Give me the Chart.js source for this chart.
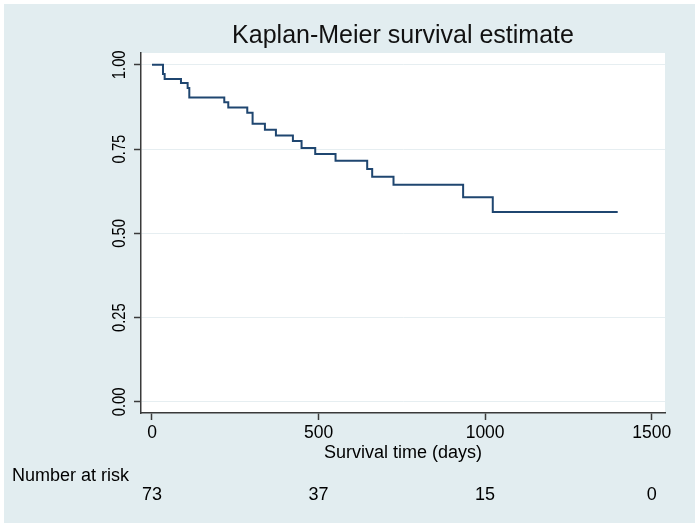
<!DOCTYPE html>
<html>
<head>
<meta charset="utf-8">
<script src="https://cdn.jsdelivr.net/npm/chart.js@4/dist/chart.umd.min.js"></script>
<style>
  html, body { margin: 0; padding: 0; background: #ffffff; }
  #wrap { width: 700px; height: 529px; }
</style>
</head>
<body>
<div id="wrap"><canvas id="c" width="700" height="529"></canvas></div>
<script>
// ---- data ----
const times    = [0, 33, 38, 87, 107, 112, 217, 229, 286, 302, 339, 372, 423, 449, 490, 551, 646, 661, 725, 934, 1023, 1398];
const survival = [1, 0.973, 0.958, 0.946, 0.931, 0.903, 0.889, 0.873, 0.858, 0.825, 0.807, 0.790, 0.774, 0.753, 0.735, 0.715, 0.691, 0.668, 0.644, 0.607, 0.563, 0.563];
const xTicks = [0, 500, 1000, 1500];
const yTicks = [0, 0.25, 0.5, 0.75, 1];
const yTickLabels = ['0.00', '0.25', '0.50', '0.75', '1.00'];
const riskTimes = [0, 500, 1000, 1500];
const riskCounts = [73, 37, 15, 0];
const titleText = 'Kaplan-Meier survival estimate';
const xTitle = 'Survival time (days)';
const riskTitle = 'Number at risk';

const FONT = '"Liberation Sans", Arial, Helvetica, sans-serif';
const OUTER_BG = '#e2edf0';
const LINE = '#1f4670';
const AXIS = '#3a3a3a';

const points = times.map((t, i) => ({ x: t, y: survival[i] }));

const decor = {
  id: 'decor',
  beforeDraw(chart) {
    const ctx = chart.ctx, a = chart.chartArea;
    ctx.save();
    ctx.fillStyle = '#ffffff';
    ctx.fillRect(0, 0, chart.width, chart.height);
    ctx.fillStyle = OUTER_BG;
    ctx.fillRect(4, 4, 691, 519);
    ctx.fillStyle = '#ffffff';
    ctx.fillRect(a.left, a.top, a.right - a.left, a.bottom - a.top);
    ctx.restore();
  },
  afterDraw(chart) {
    const ctx = chart.ctx, a = chart.chartArea;
    const xs = chart.scales.x, ys = chart.scales.y;
    ctx.save();
    // title
    ctx.fillStyle = '#111111';
    ctx.font = '25px ' + FONT;
    ctx.textAlign = 'center';
    ctx.textBaseline = 'middle';
    ctx.fillText(titleText, (a.left + a.right) / 2, 36);
    // y tick labels (rotated, narrow)
    ctx.font = '18px ' + FONT;
    ctx.fillStyle = '#000000';
    yTicks.forEach((v, i) => {
      const py = ys.getPixelForValue(v);
      ctx.save();
      ctx.translate(120.5, py);
      ctx.rotate(-Math.PI / 2);
      ctx.scale(0.82, 1);
      ctx.textAlign = 'center';
      ctx.textBaseline = 'middle';
      ctx.fillText(yTickLabels[i], 0, 0);
      ctx.restore();
    });
    // risk table
    ctx.font = '18px ' + FONT;
    ctx.textAlign = 'left';
    ctx.textBaseline = 'middle';
    ctx.fillText(riskTitle, 12, 476);
    ctx.textAlign = 'center';
    riskTimes.forEach((t, i) => {
      ctx.fillText(String(riskCounts[i]), xs.getPixelForValue(t), 495);
    });
    ctx.restore();
  }
};

new Chart(document.getElementById('c'), {
  type: 'line',
  data: {
    datasets: [{
      data: points,
      stepped: true,
      borderColor: LINE,
      borderWidth: 2,
      pointRadius: 0,
      fill: false,
      tension: 0
    }]
  },
  options: {
    responsive: false,
    animation: false,
    devicePixelRatio: 1,
    layout: { padding: { top: 53, right: 35, bottom: 0, left: 0 } },
    plugins: { legend: { display: false }, tooltip: { enabled: false }, title: { display: false } },
    scales: {
      x: {
        type: 'linear',
        min: -33,
        max: 1540,
        afterBuildTicks(s) { s.ticks = xTicks.map(v => ({ value: v })); },
        afterFit(s) { s.height = 116; },
        ticks: {
          font: { family: FONT, size: 17.5 },
          color: '#000000',
          padding: 3,
          maxRotation: 0,
          callback: v => String(v)
        },
        grid: { drawOnChartArea: false, drawTicks: true, tickLength: 7, tickColor: AXIS, tickWidth: 1.5 },
        border: { display: true, color: AXIS, width: 1.5 },
        title: {
          display: true,
          text: xTitle,
          font: { family: FONT, size: 18 },
          color: '#000000',
          padding: { top: 0, bottom: 65.5 }
        }
      },
      y: {
        type: 'linear',
        min: -0.033,
        max: 1.035,
        afterBuildTicks(s) { s.ticks = yTicks.map(v => ({ value: v })); },
        afterFit(s) { s.width = 141; },
        ticks: { display: false },
        grid: { color: '#e6eef1', lineWidth: 1, drawTicks: true, tickLength: 7, tickColor: AXIS, tickWidth: 1.5 },
        border: { display: true, color: AXIS, width: 1.5 }
      }
    }
  },
  plugins: [decor]
});
</script>
</body>
</html>
